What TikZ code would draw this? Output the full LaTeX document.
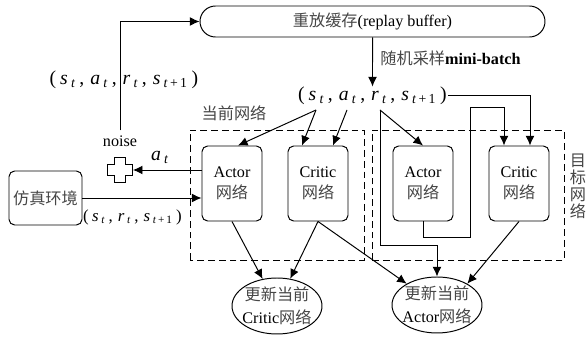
\documentclass[tikz,border=0pt]{standalone}
\usepackage{fontspec}
\setmainfont{Liberation Serif}
\newfontfamily\zhfont{Noto Sans CJK SC}
\usepackage{xcolor}
\definecolor{zhgrey}{RGB}{70, 70, 70}
\newcommand{\zh}[1]{{\zhfont\color{zhgrey}#1}}
\newcommand{\vsub}[2]{\textit{#1}\,\textsubscript{#2}}
\newcommand{\tsep}{\hspace{0.18em},\hspace{0.3em}}
\usepackage{tikz}
\usetikzlibrary{
  arrows.meta,
  shapes.geometric,
  shapes.misc,
  calc
}

\begin{document}
\begin{tikzpicture}[
    font=\fontsize{11.5}{15}\selectfont,
    line width=0.7pt,
    >={Latex[length=2.4mm, width=2.2mm]},
    netbox/.style={draw, rounded corners=4pt, minimum width=1.5cm, minimum height=1.875cm, align=center, inner sep=1pt},
    groupbox/.style={draw, dash pattern=on 1.7mm off 1mm},
    update/.style={draw, ellipse, align=center, inner xsep=-2pt, inner ysep=0pt, minimum width=2.25cm, minimum height=1.4cm, font=\fontsize{11.5}{16}\selectfont},
    tuplelabel/.style={inner sep=0pt, font=\fontsize{14}{16}\selectfont}
  ]
  \useasboundingbox (0,0) rectangle (14.65,8.425);

  % ---------- replay buffer and sampling ----------
  \node[draw, rounded rectangle, minimum width=8.625cm, minimum height=0.775cm, inner sep=0pt] (buffer) at (9.3125,7.8875) {\zh{重放缓存}(replay buffer)};
  \node[anchor=west, inner sep=0pt] (sample) at (9.5,6.975) {\zh{随机采样}\textbf{mini-batch}};
  \node[tuplelabel] (tuple) at (9.3125,6.025) {(\hspace{0.2em}\vsub{s}{\textit{t}}\tsep\vsub{a}{\textit{t}}\tsep\vsub{r}{\textit{t}}\tsep\vsub{s}{\textit{t}\,+\,1}\hspace{0.2em})};

  % tap points under the tuple
  \coordinate (ts) at (7.9,5.675);
  \coordinate (ta) at (8.675,5.675);
  \coordinate (tr) at (9.5,5.675);
  \coordinate (tend) at (11.2,6.05);

  % ---------- network groups ----------
  \draw[groupbox] (4.75,1.925) rectangle (9.1,5.175);
  \draw[groupbox] (9.3,1.925) rectangle (14.1,5.175);
  \node (curlabel) at (5.85,5.6) {\zh{当前网络}};
  \node[align=center, font=\fontsize{11.5}{12}\selectfont] (tgtlabel) at (14.45,3.775) {\zh{目}\\\zh{标}\\\zh{网}\\\zh{络}};

  \node[netbox] (actorC) at (5.8,3.8375) {Actor\\\zh{网络}};
  \node[netbox] (criticC) at (7.95,3.8375) {Critic\\\zh{网络}};
  \node[netbox] (actorT) at (10.575,3.8375) {Actor\\\zh{网络}};
  \node[netbox] (criticT) at (12.975,3.8375) {Critic\\\zh{网络}};

  \node[update] (upC) at (6.925,0.775) {\zh{更新当前}\\Critic\zh{网络}};
  \node[update] (upA) at (10.925,0.8) {\zh{更新当前}\\Actor\zh{网络}};

  % ---------- environment side ----------
  \node[draw, rounded corners=4pt, minimum width=1.825cm, minimum height=1.35cm, inner sep=1pt] (env) at (1.1375,3.475) {\zh{仿真环境}};
  \node[inner sep=0pt, font=\fontsize{12}{14}\selectfont] (envout) at (3.31,3.0) {(\hspace{0.2em}\vsub{s}{\textit{t}}\tsep\vsub{r}{\textit{t}}\tsep\vsub{s}{\textit{t}\,+\,1}\hspace{0.2em})};
  \node[minimum size=0.62cm, inner sep=0pt] (plus) at (3.0,4.175) {};
  \draw[fill=white, line width=0.6pt, shift={(plus)}]
    (-0.31,-0.14) -- (-0.14,-0.14) -- (-0.14,-0.31) -- (0.14,-0.31) -- (0.14,-0.14) -- (0.31,-0.14)
    -- (0.31,0.14) -- (0.14,0.14) -- (0.14,0.31) -- (-0.14,0.31) -- (-0.14,0.14) -- (-0.31,0.14) -- cycle;
  \node (noise) at (3.0,4.9) {noise};
  \node[inner sep=0pt, font=\fontsize{14}{16}\selectfont] (act) at (4.0,4.5) {\vsub{a}{\textit{t}}};
  \node[tuplelabel] (store) at (3.1,6.425) {(\hspace{0.2em}\vsub{s}{\textit{t}}\tsep\vsub{a}{\textit{t}}\tsep\vsub{r}{\textit{t}}\tsep\vsub{s}{\textit{t}\,+\,1}\hspace{0.2em})};

  % ---------- connectors ----------
  \draw[->] (noise) |- (buffer);
  \draw[->] (buffer) -- (tuple);
  \draw[->] (actorC.west |- plus) -- (plus.east);
  \draw[->] (env) -- (env -| actorC.west);

  \draw[->] (ts) -- ([xshift=0.15cm]actorC.north);
  \draw[->] (ts) -- ([xshift=-0.4cm]criticC.north);
  \draw[->] (ta) -- ([xshift=0.375cm]criticC.north);
  \draw[->] (tr) -- (actorT.north);
  \draw[->] (tr) -- (9.5,2.3) -| (upA);
  \draw[->] (tend) -| ([xshift=0.275cm]criticT.north);
  \draw[->] (actorT.south) -- (10.575,2.5) -| (11.75,5.75) -| ([xshift=-0.375cm]criticT.north);

  \draw[->] (actorC.south) -- (upC);
  \draw[->] (criticC.south) -- (upC);
  \draw[->] (criticC.south) -- (upA);
  \draw[->] (criticT.south) -- (upA.35);

\end{tikzpicture}
\end{document}
